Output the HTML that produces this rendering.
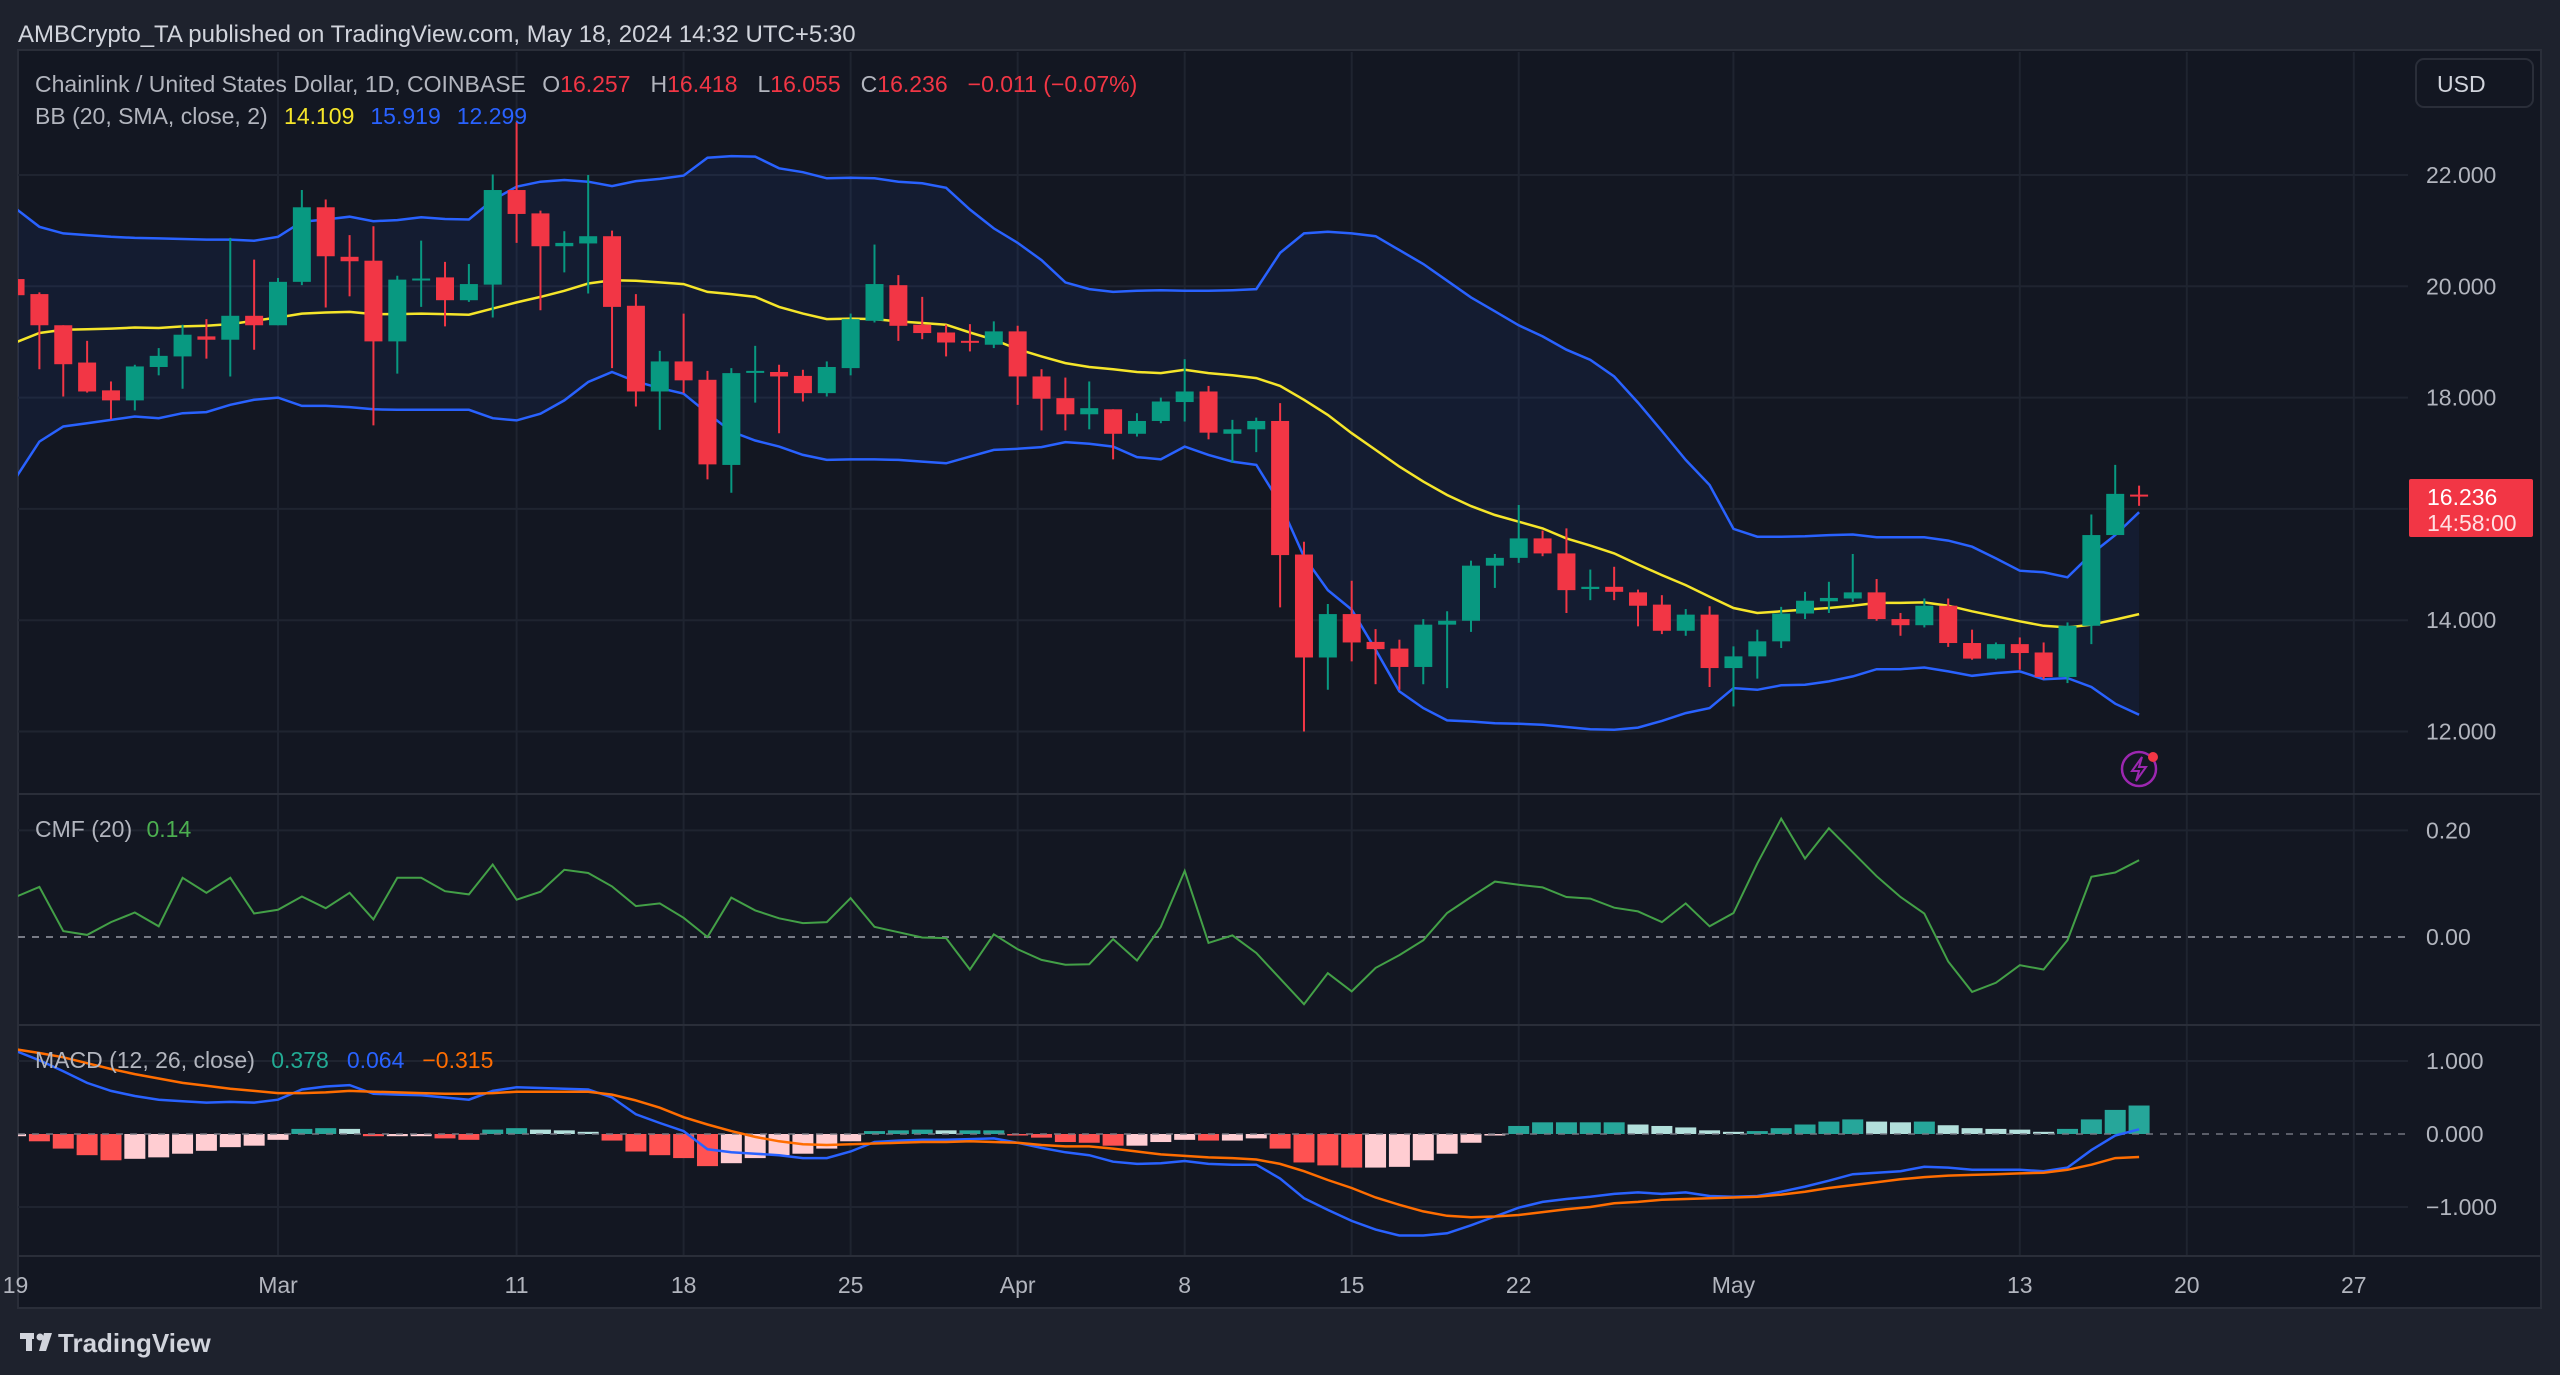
<!DOCTYPE html>
<html><head><meta charset="utf-8"><style>
html,body{margin:0;padding:0;background:#1e222d;}
svg{display:block;font-family:"Liberation Sans",sans-serif;}
</style></head><body>
<svg id="chart" width="2560" height="1375" viewBox="0 0 2560 1375">
<rect x="0" y="0" width="2560" height="1375" fill="#1e222d"/>
<rect x="18" y="50" width="2523" height="1258" fill="#131722" stroke="#2a2e39" stroke-width="2"/>
<text x="18" y="42" font-size="24" fill="#d1d4dc">AMBCrypto_TA published on TradingView.com, May 18, 2024 14:32 UTC+5:30</text>
<g id="grid"></g>
<g id="bb"></g>
<g id="candles"></g>
<g id="cmf"></g>
<g id="macd"></g>
<g id="axes"></g>
<text x="35" y="92" font-size="23" fill="#b2b5be">Chainlink / United States Dollar, 1D, COINBASE <tspan dx="10">O</tspan><tspan fill="#f23645">16.257</tspan><tspan dx="20">H</tspan><tspan fill="#f23645">16.418</tspan><tspan dx="20">L</tspan><tspan fill="#f23645">16.055</tspan><tspan dx="20">C</tspan><tspan fill="#f23645">16.236</tspan><tspan dx="20" fill="#f23645">−0.011 (−0.07%)</tspan></text>
<text x="35" y="124" font-size="23" fill="#b2b5be">BB (20, SMA, close, 2) <tspan dx="10" fill="#f5e52a">14.109</tspan><tspan dx="16" fill="#2962ff">15.919</tspan><tspan dx="16" fill="#2962ff">12.299</tspan></text>
<text x="35" y="837" font-size="23" fill="#b2b5be">CMF (20) <tspan dx="8" fill="#4caf50">0.14</tspan></text>
<text x="35" y="1068" font-size="23" fill="#b2b5be">MACD (12, 26, close) <tspan dx="10" fill="#22ab94">0.378</tspan><tspan dx="18" fill="#2962ff">0.064</tspan><tspan dx="18" fill="#ff6d00">−0.315</tspan></text>
<g><rect x="2416" y="59" width="117" height="48" rx="8" fill="#131722" stroke="#2a2e39" stroke-width="2"/><text x="2437" y="92" font-size="23" fill="#d1d4dc">USD</text></g>
<g><rect x="2409" y="479" width="124" height="58" rx="2" fill="#f23645"/><text x="2427" y="505" font-size="23" fill="#ffffff">16.236</text><text x="2427" y="531" font-size="23" fill="#ffe0e3">14:58:00</text></g>
<g><circle cx="2139" cy="769" r="17" fill="none" stroke="#9c27b0" stroke-width="2.5"/><path d="M2142 757 L2132 771 L2139 771 L2136 781 L2146 767 L2139 767 Z" fill="none" stroke="#9c27b0" stroke-width="2"/><circle cx="2153" cy="757" r="5" fill="#f23645"/></g>
<g><rect x="20" y="1333" width="14" height="6" fill="#d1d4dc"/><rect x="26" y="1333" width="6" height="18" fill="#d1d4dc"/><circle cx="40" cy="1337" r="3.5" fill="#d1d4dc"/><path d="M44 1333 L52 1333 L46 1351 L39 1351 Z" fill="#d1d4dc"/><text x="58" y="1352" font-size="26" font-weight="bold" fill="#d1d4dc">TradingView</text></g>
</svg>
<script>
// day index: -11 = Feb 19, 0 = Mar 1, 78 = May 18
const startDay = -11;
const opens = [20.13,19.86,19.30,18.63,18.13,17.95,18.55,18.74,19.10,19.04,19.47,
19.30,20.08,21.42,20.53,20.46,19.01,20.12,20.16,19.75,20.03,21.73,21.31,
20.72,20.77,20.90,19.65,18.11,18.65,18.32,16.79,18.45,18.46,18.39,18.08,18.53,19.38,20.02,19.31,19.17,19.02,18.95,19.19,18.38,17.99,17.70,
17.79,17.35,17.58,17.92,18.11,17.35,17.43,17.58,15.18,13.33,14.11,13.61,13.49,13.16,13.92,13.99,14.98,15.12,15.47,15.20,14.56,14.60,
14.50,14.28,13.81,14.10,13.14,13.35,13.62,14.12,14.34,14.39,14.50,14.02,13.91,14.26,13.59,13.31,13.57,13.42,12.98,13.90,15.53,16.257];
const highs = [20.2,19.89,19.30,19.02,18.29,18.59,18.89,19.31,19.41,20.87,20.48,
20.15,21.73,21.56,20.92,21.08,20.19,20.82,20.44,20.40,22.01,22.95,21.36,
20.99,22.0,21.0,19.86,18.84,19.51,18.48,18.53,18.93,18.59,18.50,18.65,19.51,20.75,20.20,19.81,19.31,19.32,19.37,19.29,18.51,18.36,18.29,
17.79,17.72,18.0,18.69,18.21,17.60,17.64,17.90,15.41,14.29,14.71,13.84,13.65,14.02,14.16,15.07,15.19,16.07,15.61,15.65,14.91,14.96,
14.55,14.45,14.20,14.25,13.53,13.83,14.24,14.51,14.69,15.19,14.74,14.13,14.39,14.39,13.83,13.60,13.69,13.60,13.96,15.90,16.79,16.418];
const lows = [19.8,18.51,18.02,18.09,17.61,17.77,18.40,18.16,18.70,18.38,18.86,
19.30,20.02,19.62,19.82,17.50,18.43,19.63,19.28,19.72,19.44,20.78,19.57,
20.25,19.87,18.53,17.84,17.42,18.08,16.53,16.29,17.91,17.36,17.93,18.02,18.40,19.35,19.02,19.05,18.74,18.83,18.89,17.87,17.41,17.41,17.43,
16.89,17.30,17.54,17.57,17.25,16.83,17.02,14.23,12.0,12.75,13.26,12.85,12.75,12.85,12.78,13.79,14.58,15.03,15.15,14.13,14.36,14.36,
13.89,13.75,13.72,12.80,12.45,12.95,13.50,14.02,14.13,14.33,13.99,13.72,13.87,13.52,13.29,13.29,13.11,12.94,12.87,13.57,15.53,16.055];
const closes = [19.84,19.30,18.60,18.11,17.95,18.56,18.75,19.13,19.04,19.47,19.30,
20.08,21.42,20.54,20.45,19.01,20.12,20.14,19.75,20.04,21.73,21.30,20.72,
20.78,20.90,19.63,18.11,18.65,18.31,16.80,18.44,18.48,18.38,18.08,18.55,19.41,20.04,19.29,19.16,18.99,18.99,19.19,18.38,17.98,17.70,17.81,
17.35,17.58,17.93,18.11,17.37,17.43,17.58,15.17,13.33,14.11,13.60,13.48,13.16,13.92,13.99,14.98,15.12,15.47,15.20,14.54,14.60,14.51,
14.26,13.81,14.10,13.14,13.35,13.62,14.12,14.35,14.40,14.50,14.02,13.91,14.26,13.59,13.31,13.57,13.41,12.98,13.90,15.53,16.27,16.236];
const bbUpper = [21.40,21.07,20.95,20.92,20.89,20.87,20.86,20.85,20.84,20.84,20.82,
20.89,21.16,21.20,21.25,21.17,21.19,21.24,21.21,21.20,21.55,21.79,21.88,
21.91,21.88,21.80,21.89,21.93,21.99,22.31,22.34,22.33,22.12,22.05,21.94,21.95,21.94,21.88,21.85,21.77,21.38,21.04,20.78,20.47,20.07,19.95,
19.90,19.92,19.93,19.92,19.92,19.93,19.95,
20.6,20.95,20.98,20.95,20.90,20.65,20.4,20.1,19.8,19.55,19.3,19.1,18.86,18.68,18.38,
17.91,17.4,16.88,16.43,15.64,15.50,15.50,15.51,15.53,15.54,15.49,15.49,15.49,15.43,15.32,15.11,14.89,14.86,14.77,15.19,15.53,15.94];
const bbBasis = [18.99,19.16,19.22,19.23,19.24,19.26,19.25,19.28,19.29,19.32,19.38,
19.44,19.51,19.53,19.54,19.50,19.50,19.51,19.50,19.49,19.60,19.71,19.81,
19.92,20.05,20.11,20.10,20.07,20.04,19.90,19.86,19.81,19.63,19.51,19.41,19.42,19.41,19.37,19.34,19.31,19.17,19.04,18.87,18.74,18.62,18.55,
18.51,18.46,18.44,18.50,18.44,18.40,18.35,18.21,17.96,17.69,17.36,17.06,16.76,16.49,16.25,16.05,15.89,15.77,15.65,15.47,15.34,15.20,
15.0,14.81,14.63,14.42,14.22,14.13,14.16,14.19,14.22,14.26,14.31,14.31,14.32,14.26,14.16,14.07,13.98,13.90,13.87,13.92,14.01,14.11];
const bbLower = [16.55,17.21,17.48,17.54,17.60,17.66,17.63,17.72,17.74,17.87,17.96,
18.0,17.85,17.85,17.83,17.79,17.78,17.78,17.78,17.78,17.63,17.59,17.71,
17.95,18.28,18.46,18.29,18.17,18.07,17.72,17.39,17.23,17.12,16.97,16.88,16.89,16.89,16.88,16.85,16.82,16.94,17.06,17.08,17.11,17.20,17.17,
17.12,16.93,16.89,17.12,16.97,16.85,16.79,16.10,15.14,14.54,14.19,13.47,12.72,12.42,12.20,12.18,12.15,12.14,12.12,12.08,12.04,12.03,
12.07,12.19,12.33,12.42,12.78,12.75,12.83,12.84,12.90,12.99,13.12,13.12,13.15,13.08,13.00,13.05,13.08,12.94,12.96,12.80,12.50,12.30];
const cmfValues = [0.075,0.094,0.011,0.004,0.028,0.046,0.020,0.111,0.083,0.111,0.044,
0.051,0.076,0.054,0.083,0.033,0.111,0.111,0.086,0.080,0.136,0.070,0.085,
0.126,0.120,0.095,0.058,0.063,0.036,0.0,0.074,0.050,0.035,0.026,0.028,0.073,0.019,0.009,-0.001,-0.002,-0.061,0.005,-0.023,-0.043,-0.052,-0.051,
-0.004,-0.044,0.019,0.124,-0.011,0.003,-0.030,-0.078,-0.126,-0.068,-0.102,-0.058,-0.034,-0.006,0.045,0.075,0.104,0.098,0.093,0.075,0.072,0.055,
0.048,0.028,0.063,0.020,0.045,0.138,0.222,0.147,0.204,0.159,0.114,0.075,0.044,-0.046,-0.103,-0.086,-0.053,-0.061,-0.006,0.113,0.121,0.144];
const macdLine = [1.14,1.01,0.86,0.70,0.59,0.52,0.47,0.45,0.43,0.44,0.43,
0.47,0.61,0.65,0.67,0.55,0.54,0.53,0.50,0.47,0.59,0.64,0.63,
0.62,0.61,0.50,0.27,0.15,0.04,-0.21,-0.25,-0.27,-0.29,-0.33,-0.33,-0.24,-0.11,-0.09,-0.08,-0.08,-0.07,-0.06,-0.12,-0.19,-0.25,-0.29,
-0.38,-0.41,-0.40,-0.37,-0.41,-0.42,-0.42,-0.61,-0.88,-1.04,-1.19,-1.31,-1.39,-1.39,-1.36,-1.25,-1.13,-1.01,-0.93,-0.89,-0.86,-0.82,
-0.80,-0.82,-0.80,-0.85,-0.86,-0.85,-0.79,-0.72,-0.64,-0.55,-0.53,-0.51,-0.45,-0.46,-0.49,-0.49,-0.49,-0.51,-0.46,-0.22,-0.02,0.064];
const signalLine = [1.16,1.11,1.05,0.97,0.89,0.82,0.76,0.70,0.66,0.62,0.59,
0.56,0.56,0.57,0.59,0.58,0.57,0.56,0.55,0.55,0.56,0.58,0.58,
0.58,0.58,0.54,0.46,0.36,0.23,0.13,0.04,-0.04,-0.10,-0.14,-0.15,-0.14,-0.13,-0.12,-0.11,-0.11,-0.10,-0.11,-0.12,-0.15,-0.17,-0.17,
-0.20,-0.24,-0.28,-0.30,-0.32,-0.33,-0.35,-0.41,-0.51,-0.63,-0.74,-0.87,-0.97,-1.06,-1.12,-1.14,-1.13,-1.11,-1.07,-1.03,-1.00,-0.95,
-0.93,-0.90,-0.89,-0.88,-0.87,-0.86,-0.83,-0.79,-0.74,-0.70,-0.66,-0.62,-0.59,-0.57,-0.56,-0.55,-0.54,-0.53,-0.49,-0.42,-0.33,-0.315];
const histValues = [-0.03,-0.10,-0.20,-0.29,-0.36,-0.34,-0.32,-0.27,-0.23,-0.18,-0.16,
-0.08,0.07,0.08,0.07,-0.03,-0.03,-0.03,-0.06,-0.08,0.06,0.08,0.06,
0.05,0.03,-0.09,-0.24,-0.29,-0.33,-0.44,-0.40,-0.33,-0.29,-0.27,-0.20,-0.10,0.04,0.05,0.06,0.05,0.05,0.05,-0.01,-0.05,-0.11,-0.12,
-0.16,-0.16,-0.11,-0.08,-0.09,-0.09,-0.06,-0.20,-0.39,-0.43,-0.46,-0.46,-0.45,-0.36,-0.27,-0.12,-0.01,0.11,0.16,0.16,0.16,0.16,
0.13,0.11,0.09,0.05,0.03,0.04,0.08,0.13,0.17,0.20,0.17,0.16,0.17,0.12,0.08,0.07,0.06,0.03,0.07,0.20,0.33,0.39];
const priceTicks = [22,20,18,14,12];
const priceTickLabels = ["22.000","20.000","18.000","14.000","12.000"];
const cmfTicks = [0.2,0];
const cmfTickLabels = ["0.20","0.00"];
const macdTicks = [1,0,-1];
const macdTickLabels = ["1.000","0.000","−1.000"];
const dateTicks = [-11,0,10,17,24,31,38,45,52,61,73,80,87];
const dateTickLabels = ["19","Mar","11","18","25","Apr","8","15","22","May","13","20","27"];

const NS = "http://www.w3.org/2000/svg";
const PLOT_L = 18, PLOT_R = 2408;
function xOf(d){ return 278 + 23.86 * d; }
function yPrice(p){ return 175 + (22 - p) * 55.65; }
function yCmf(v){ return 937 - v * 533; }
function yMacd(v){ return 1134 - v * 73; }
function mk(tag, attrs, parent){
  const e = document.createElementNS(NS, tag);
  for (const k in attrs) e.setAttribute(k, attrs[k]);
  parent.appendChild(e); return e;
}
const gGrid = document.getElementById('grid');
const gBB = document.getElementById('bb');
const gC = document.getElementById('candles');
const gCmf = document.getElementById('cmf');
const gMacd = document.getElementById('macd');
const gAx = document.getElementById('axes');

const defs = mk('defs', {}, document.getElementById('chart'));
const cp = mk('clipPath', {id:'plotclip'}, defs);
mk('rect', {x:PLOT_L, y:52, width:PLOT_R-PLOT_L, height:1204}, cp);
[gGrid,gBB,gC,gCmf,gMacd].forEach(g=>g.setAttribute('clip-path','url(#plotclip)'));

dateTicks.forEach((d,i)=>{
  const ln = mk('line', {x1:xOf(d), x2:xOf(d), y1:52, y2:1256, stroke:'#1f2430', 'stroke-width':2}, gGrid);
  
  
  const t = mk('text', {x:xOf(d), y:1293, 'font-size':23, fill:'#b2b5be', 'text-anchor':'middle'}, gAx);
  t.textContent = dateTickLabels[i];
  
  
});
[16].concat(priceTicks).forEach(p=>{
  mk('line', {x1:PLOT_L, x2:PLOT_R, y1:yPrice(p), y2:yPrice(p), stroke:'#1f2430', 'stroke-width':2}, gGrid);
});
priceTicks.forEach((p,i)=>{
  const t = mk('text', {x:2426, y:yPrice(p)+8, 'font-size':23, fill:'#b2b5be'}, gAx);
  t.textContent = priceTickLabels[i];
  
  
});
cmfTicks.forEach((v,i)=>{
  if (v !== 0) mk('line', {x1:PLOT_L, x2:PLOT_R, y1:yCmf(v), y2:yCmf(v), stroke:'#1f2430', 'stroke-width':2}, gGrid);
  const t = mk('text', {x:2426, y:yCmf(v)+8, 'font-size':23, fill:'#b2b5be'}, gAx);
  t.textContent = cmfTickLabels[i];
  
  
});
macdTicks.forEach((v,i)=>{
  if (v !== 0) mk('line', {x1:PLOT_L, x2:PLOT_R, y1:yMacd(v), y2:yMacd(v), stroke:'#1f2430', 'stroke-width':2}, gGrid);
  const t = mk('text', {x:2426, y:yMacd(v)+8, 'font-size':23, fill:'#b2b5be'}, gAx);
  t.textContent = macdTickLabels[i];
  
  
});
[794,1025,1256].forEach(y=>{
  const s = mk('line', {x1:18, x2:2541, y1:y, y2:y, stroke:'#2a2e39', 'stroke-width':2}, gAx);
  
  
});

function pathFrom(arr, yf){
  return arr.map((v,i)=>(i?'L':'M')+xOf(startDay+i).toFixed(1)+' '+yf(v).toFixed(1)).join(' ');
}
let fillD = pathFrom(bbUpper, yPrice);
for (let i=bbLower.length-1;i>=0;i--) fillD += ' L'+xOf(startDay+i).toFixed(1)+' '+yPrice(bbLower[i]).toFixed(1);
const bf = mk('path', {d:fillD+' Z', fill:'rgba(41,98,255,0.07)'}, gBB);


const bu = mk('path', {d:pathFrom(bbUpper, yPrice), fill:'none', stroke:'#2962ff', 'stroke-width':2.5}, gBB);


const bl = mk('path', {d:pathFrom(bbLower, yPrice), fill:'none', stroke:'#2962ff', 'stroke-width':2.5}, gBB);


const bm = mk('path', {d:pathFrom(bbBasis, yPrice), fill:'none', stroke:'#f5e52a', 'stroke-width':2.5}, gBB);



closes.forEach((c,i)=>{
  const o = opens[i], x = xOf(startDay+i);
  const col = c >= o ? '#089981' : '#f23645';
  const w = mk('line', {x1:x, x2:x, y1:yPrice(highs[i]), y2:yPrice(lows[i]), stroke:col, 'stroke-width':2}, gC);
  
  
  const top = yPrice(Math.max(o,c)), bot = yPrice(Math.min(o,c));
  const b = mk('rect', {x:x-9, y:top, width:18, height:Math.max(2, bot-top), fill:col}, gC);
  
  
});

const z1 = mk('line', {x1:PLOT_L, x2:PLOT_R, y1:yCmf(0), y2:yCmf(0), stroke:'#787b86', 'stroke-width':2, 'stroke-dasharray':'7 7'}, gCmf);


const cl = mk('path', {d:pathFrom(cmfValues, yCmf), fill:'none', stroke:'#43a047', 'stroke-width':2}, gCmf);



histValues.forEach((h,i)=>{
  const prev = i ? histValues[i-1] : h;
  let col;
  if (h >= 0) col = h >= prev ? '#26a69a' : '#b2dfdb';
  else col = h < prev ? '#ff5252' : '#ffcdd2';
  const x = xOf(startDay+i);
  const y0 = yMacd(0), y1 = yMacd(h);
  const r = mk('rect', {x:x-10.5, y:Math.min(y0,y1), width:21, height:Math.max(1.5, Math.abs(y1-y0)), fill:col}, gMacd);
  
  
});
const z2 = mk('line', {x1:PLOT_L, x2:PLOT_R, y1:yMacd(0), y2:yMacd(0), stroke:'#787b86', 'stroke-width':2, 'stroke-dasharray':'7 7', opacity:0.7}, gMacd);


const ml = mk('path', {d:pathFrom(macdLine, yMacd), fill:'none', stroke:'#2962ff', 'stroke-width':2.5}, gMacd);


const sl = mk('path', {d:pathFrom(signalLine, yMacd), fill:'none', stroke:'#ff6d00', 'stroke-width':2.5}, gMacd);


</script>
</body></html>
